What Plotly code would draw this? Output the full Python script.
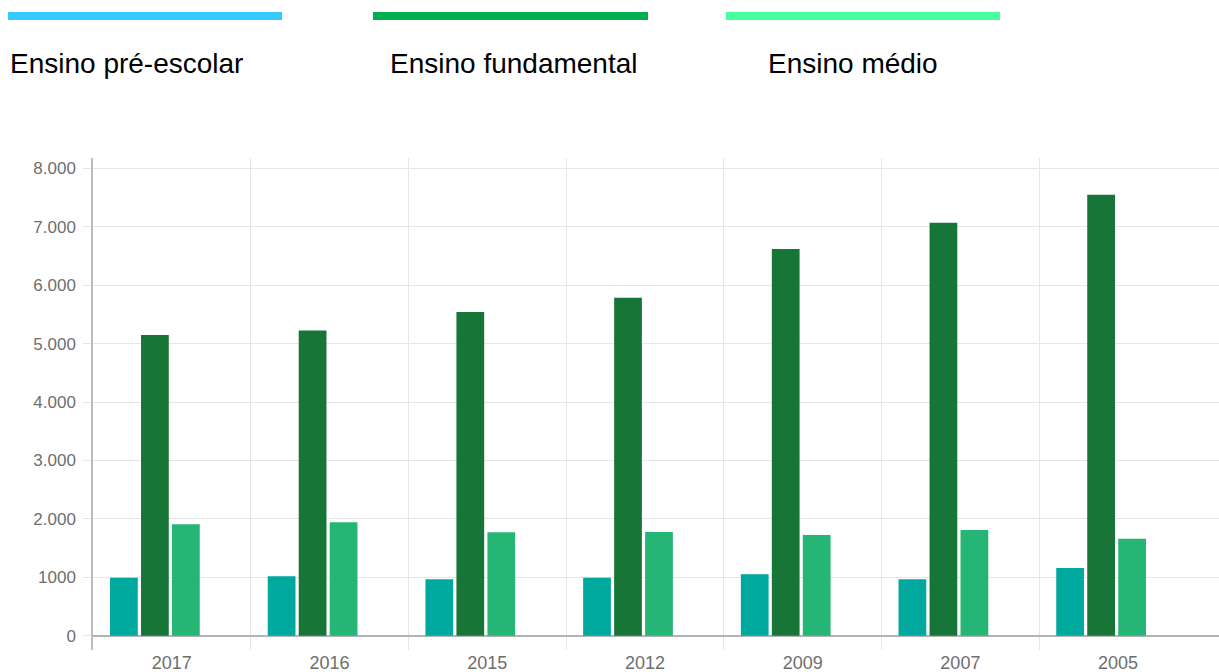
import plotly.graph_objects as go

years = ["2017", "2016", "2015", "2012", "2009", "2007", "2005"]
series_names = ["Ensino pré-escolar", "Ensino fundamental", "Ensino médio"]
pre_escolar = [993, 1017, 966, 993, 1051, 966, 1159]
fundamental = [5149, 5228, 5543, 5785, 6622, 7070, 7551]
medio = [1907, 1942, 1771, 1776, 1724, 1810, 1661]
bar_colors = ["#00A99D", "#177537", "#25B574"]
legend_colors = ["#36C8FF", "#00B050", "#47FF9D"]
y_tickvals = [0, 1000, 2000, 3000, 4000, 5000, 6000, 7000, 8000]
y_ticktext = ["0", "1000", "2.000", "3.000", "4.000", "5.000", "6.000", "7.000", "8.000"]

W, H = 1219, 672
L, R, T, B = 93, 0, 158, 22
PW, PH = W - L - R, H - T - B

def px(x):
    return (x - L) / PW

def py(y):
    return (H - B - y) / PH

FONT = "Liberation Sans, Arial, Helvetica, sans-serif"

fig = go.Figure()
values = [pre_escolar, fundamental, medio]
offsets = [-0.392, -0.1955, 0.001]
for name, vals, col, off in zip(series_names, values, bar_colors, offsets):
    fig.add_trace(go.Bar(
        x=years, y=vals, name=name, marker=dict(color=col, line=dict(width=0)),
        width=0.176, offset=off, showlegend=False,
    ))

n = len(years)
xr = [-0.5, n - 0.5 + 0.14]

fig.update_layout(
    width=W, height=H,
    margin=dict(l=L, r=R, t=T, b=B),
    plot_bgcolor="white", paper_bgcolor="white",
    barmode="overlay",
    font=dict(family=FONT),
    xaxis=dict(
        type="category", range=xr, showgrid=False, zeroline=False, showline=False,
        ticks="", tickfont=dict(size=18, color="#6e6e6e"),
    ),
    xaxis2=dict(
        overlaying="x", anchor="y", range=xr, type="linear",
        tickvals=[i - 0.5 for i in range(n)], showticklabels=False,
        showgrid=True, gridcolor="#e6e6e6", gridwidth=1, zeroline=False, ticks="",
    ),
    yaxis=dict(
        range=[-245, 8180], tickvals=y_tickvals, ticktext=y_ticktext,
        showgrid=True, gridcolor="#e6e6e6", gridwidth=1,
        zeroline=True, zerolinecolor="#b3b3b3", zerolinewidth=1.5,
        showline=True, linecolor="#bdbdbd", linewidth=1.5,
        ticks="outside", ticklen=8, tickcolor="#e6e6e6",
        tickfont=dict(size=17, color="#6e6e6e"), ticklabelstandoff=4,
    ),
)
# invisible trace to activate xaxis2 gridlines
fig.add_trace(go.Scatter(x=[xr[0]], y=[None], xaxis="x2", yaxis="y", showlegend=False, hoverinfo="skip"))

# custom legend
leg_bars = [(8, 282), (373, 648), (726, 1000)]
leg_text_x = [8, 388, 766]
for name, col, (x0, x1), tx in zip(series_names, legend_colors, leg_bars, leg_text_x):
    fig.add_shape(type="rect", xref="paper", yref="paper",
                  x0=px(x0), x1=px(x1), y0=py(20), y1=py(12),
                  fillcolor=col, line=dict(width=0))
    fig.add_annotation(xref="paper", yref="paper", x=px(tx), y=py(64),
                       xanchor="left", yanchor="middle", showarrow=False,
                       text=name, font=dict(size=28, color="#000000", family=FONT))

fig.write_html(
    "out.html",
    config={"displayModeBar": False},
    post_script="document.body.style.margin='0';document.body.style.overflow='hidden';",
)
